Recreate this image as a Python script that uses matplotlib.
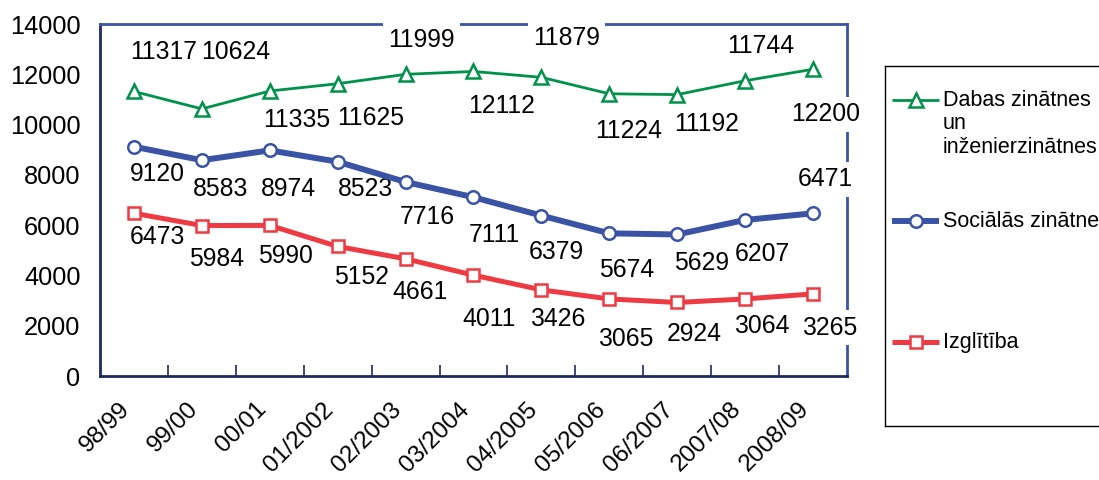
import numpy as np
import matplotlib.pyplot as plt
from matplotlib.transforms import ScaledTranslation

plt.rcParams['font.family'] = ['Liberation Sans', 'DejaVu Sans']

# dati
gadi = ['98/99', '99/00', '00/01', '01/2002', '02/2003', '03/2004',
        '04/2005', '05/2006', '06/2007', '2007/08', '2008/09']
dabas = [11317, 10624, 11335, 11625, 11999, 12112, 11879, 11224, 11192, 11744, 12200]
social = [9120, 8583, 8974, 8523, 7716, 7111, 6379, 5674, 5629, 6207, 6471]
izglitiba = [6473, 5984, 5990, 5152, 4661, 4011, 3426, 3065, 2924, 3064, 3265]

nosaukumi = ['Dabas zinātnes\nun\ninženierzinātnes', 'Sociālās zinātnes', 'Izglītība']

# etiketes nobidijumi (pikseli, x pa labi, y uz leju)
green_off = [(30, -41), (34, -59), (27, 27), (33, 32), (16, -36), (28, 33),
             (25, -41), (19, 35), (29, 27), (16, -37), (13, 43)]
blue_off = [(23, 25), (19, 27), (19, 37), (28, 25), (22, 33), (21, 36),
            (15, 34), (17, 35), (24, 27), (17, 32), (12, -36)]
red_off = [(23, 22), (15, 31), (16, 29), (24, 29), (14, 31), (16, 42),
           (16, 27), (16, 38), (17, 30), (17, 25), (17, 32)]

zals = '#00924A'
zils = '#3A53A4'
sark = '#EE3B43'
navy = '#1F2A5E'

fig = plt.figure(figsize=(10.99, 4.8), dpi=100)
ax = fig.add_axes([100/1099, 104/480, 747/1099, 352/480])

x = np.arange(len(gadi))
stili = [
    (dabas, zals, '^', 2.0, 10, green_off),
    (social, zils, 'o', 4.3, 9, blue_off),
    (izglitiba, sark, 's', 3.6, 9, red_off),
]
for vert, kr, mk, lw, ms, offs in stili:
    ax.plot(x, vert, color=kr, lw=lw, marker=mk, ms=ms, mfc='white',
            mec=kr, mew=1.8, zorder=3)
    for i, v in enumerate(vert):
        ax.annotate(str(v), (x[i], v), xytext=(offs[i][0], -offs[i][1] - 2),
                    textcoords='offset pixels', ha='center', va='center',
                    fontsize=17.8, zorder=2,
                    bbox=dict(boxstyle='square,pad=0.22', fc='white', ec='none'))

ax.set_xlim(-0.5, 10.5)
ax.set_ylim(0, 14000)
ax.set_yticks(np.arange(0, 14001, 2000))
ax.tick_params(axis='y', length=0, pad=14, labelsize=18.3)

ax.set_xticks(x)
ax.set_xticklabels(gadi, rotation=45, ha='right', rotation_mode='anchor',
                   fontsize=17.5)
ax.tick_params(axis='x', which='major', length=0, pad=16)
ax.set_xticks(np.arange(0.5, 10, 1), minor=True)
ax.tick_params(axis='x', which='minor', direction='in', length=8,
               width=1.2, color=navy)
off = ScaledTranslation(-15/100, 0, fig.dpi_scale_trans)
for lb in ax.get_xticklabels():
    lb.set_transform(lb.get_transform() + off)

for s in ['left', 'bottom']:
    ax.spines[s].set_color(navy)
    ax.spines[s].set_linewidth(2)
for s in ['top', 'right']:
    ax.spines[s].set_color(zils)
    ax.spines[s].set_linewidth(2)
for s in ax.spines.values():
    s.set_zorder(1)

# legenda
lax = fig.add_axes([885/1099, 54/480, 230/1099, 360/480])
lax.set_xlim(885, 1115)
lax.set_ylim(426, 66)
lax.set_xticks([])
lax.set_yticks([])
for s in lax.spines.values():
    s.set_color('black')
    s.set_linewidth(1)
leg_y = [100, 221, 342]
for (vert, kr, mk, lw, ms, offs), nos, yy in zip(stili, nosaukumi, leg_y):
    lax.plot([892, 939], [yy, yy], color=kr, lw=lw, solid_capstyle='butt')
    lax.plot([915.5], [yy], marker=mk, ms=ms, mfc='white', mec=kr, mew=1.8)
    lax.text(943, yy - 10, nos, ha='left', va='top', fontsize=15.5,
             linespacing=1.15)

fig.savefig('out.png', dpi=100)
